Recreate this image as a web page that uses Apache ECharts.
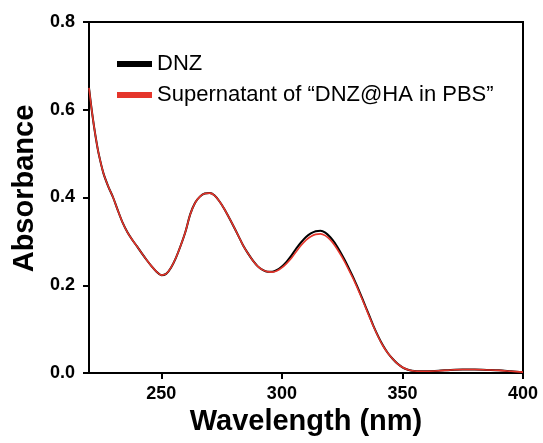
<!DOCTYPE html>
<html>
<head>
<meta charset="utf-8">
<script src="https://cdn.jsdelivr.net/npm/echarts@6/dist/echarts.min.js"></script>
<style>
  html, body { margin: 0; padding: 0; background: #fff; }
  #chart { width: 543px; height: 443px; }
</style>
</head>
<body>
<div id="chart"></div>
<script>
// wavelength (nm)
var wavelengths = [220, 221, 222, 223, 224, 226, 228, 230, 232, 234, 236, 238, 240, 242, 244, 246, 248, 250,
  252, 254, 256, 258, 260, 262, 264, 266, 268, 270, 272, 274, 276, 278, 280, 282, 284, 286, 288, 290,
  292, 294, 296, 298, 300, 302, 304, 306, 308, 310, 312, 314, 316, 318, 320, 322, 324, 326, 328, 330,
  332, 334, 336, 338, 340, 342, 344, 346, 348, 350, 352, 354, 356, 360, 365, 370, 375, 380, 385, 390, 395, 400];

// DNZ
var dnz = [0.650, 0.605, 0.565, 0.530, 0.500, 0.455, 0.425, 0.400, 0.370, 0.342, 0.320, 0.303, 0.288, 0.272, 0.257, 0.243, 0.231, 0.223,
  0.226, 0.240, 0.262, 0.290, 0.322, 0.362, 0.388, 0.402, 0.409, 0.410, 0.405, 0.392, 0.375, 0.355, 0.334, 0.312, 0.290, 0.272, 0.256, 0.243,
  0.235, 0.231, 0.231, 0.235, 0.243, 0.254, 0.268, 0.284, 0.298, 0.310, 0.318, 0.323, 0.324, 0.320, 0.310, 0.296, 0.278, 0.258, 0.236, 0.213,
  0.188, 0.161, 0.134, 0.107, 0.083, 0.062, 0.045, 0.032, 0.021, 0.013, 0.008, 0.005, 0.004, 0.004, 0.005, 0.007, 0.008, 0.008, 0.007, 0.006, 0.004, 0.002];

// Supernatant of "DNZ@HA in PBS"
var supernatant = [0.650, 0.605, 0.565, 0.530, 0.500, 0.455, 0.425, 0.400, 0.370, 0.342, 0.320, 0.303, 0.288, 0.272, 0.257, 0.243, 0.231, 0.223,
  0.226, 0.240, 0.262, 0.290, 0.322, 0.362, 0.388, 0.402, 0.409, 0.410, 0.405, 0.392, 0.375, 0.355, 0.334, 0.312, 0.290, 0.272, 0.256, 0.243,
  0.235, 0.231, 0.230, 0.233, 0.240, 0.250, 0.262, 0.277, 0.291, 0.303, 0.311, 0.316, 0.317, 0.313, 0.304, 0.290, 0.273, 0.254, 0.232, 0.210,
  0.185, 0.159, 0.132, 0.106, 0.082, 0.061, 0.045, 0.032, 0.021, 0.013, 0.008, 0.005, 0.004, 0.004, 0.005, 0.007, 0.008, 0.008, 0.007, 0.006, 0.004, 0.002];

var xTicks = [250, 300, 350, 400];

var chartDom = document.getElementById('chart');
var myChart = echarts.init(chartDom);

var toPairs = function (ys) {
  return wavelengths.map(function (x, i) { return [x, ys[i]]; });
};

var option = {
  animation: false,
  backgroundColor: '#fff',
  textStyle: { fontFamily: 'Liberation Sans, Arial, sans-serif' },
  grid: {
    left: 89, right: 20, top: 22, bottom: 70,
    show: true, borderColor: '#000', borderWidth: 2
  },
  legend: {
    orient: 'vertical',
    left: 112, top: 48,
    itemWidth: 35, itemHeight: 6,
    itemGap: 9,
    icon: 'rect',
    textStyle: { fontSize: 22, color: '#000', lineHeight: 22 },
    data: ['DNZ', 'Supernatant of \u201cDNZ@HA in PBS\u201d']
  },
  xAxis: {
    type: 'value',
    min: 220, max: 400,
    name: 'Wavelength (nm)',
    nameLocation: 'middle',
    nameGap: 30,
    nameTextStyle: { fontSize: 29, fontWeight: 'bold', color: '#000' },
    axisLine: { lineStyle: { color: '#000', width: 2 } },
    axisTick: { show: true, length: 6, lineStyle: { color: '#000', width: 2 }, customValues: xTicks },
    axisLabel: { fontSize: 18, fontWeight: 'bold', color: '#000', margin: 12, customValues: xTicks },
    splitLine: { show: false }
  },
  yAxis: {
    type: 'value',
    min: 0, max: 0.8, interval: 0.2,
    name: 'Absorbance',
    nameLocation: 'middle',
    nameGap: 45,
    nameTextStyle: { fontSize: 29, fontWeight: 'bold', color: '#000', padding: [0, 0, 0, 18] },
    axisLine: { lineStyle: { color: '#000', width: 2 } },
    axisTick: { length: 6, lineStyle: { color: '#000', width: 2 } },
    axisLabel: {
      fontSize: 18, fontWeight: 'bold', color: '#000', margin: 14,
      formatter: function (v) { return v.toFixed(1); }
    },
    splitLine: { show: false }
  },
  series: [{
    name: 'DNZ',
    type: 'line',
    smooth: 0.3,
    showSymbol: false,
    color: '#000',
    lineStyle: { color: '#000', width: 2 },
    data: toPairs(dnz)
  }, {
    name: 'Supernatant of \u201cDNZ@HA in PBS\u201d',
    type: 'line',
    smooth: 0.3,
    showSymbol: false,
    color: '#e5352b',
    lineStyle: { color: '#e5352b', width: 1.6 },
    data: toPairs(supernatant)
  }]
};
myChart.setOption(option);
</script>
</body>
</html>
